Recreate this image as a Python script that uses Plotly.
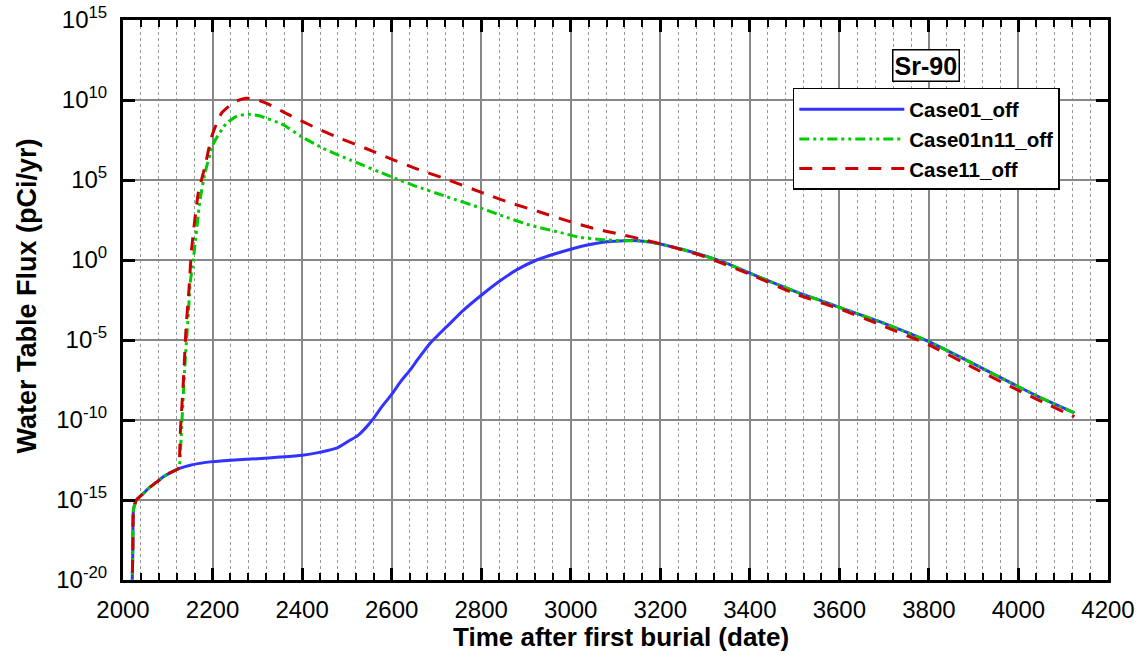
import plotly.graph_objects as go

# ---- data ----
case01_year = [2020, 2022, 2023.5, 2030, 2045, 2060, 2075, 2090, 2105, 2123,
               2150, 2200, 2250, 2300, 2350, 2400, 2430, 2460, 2480, 2505,
               2525, 2545, 2560, 2580, 2600, 2620, 2641, 2660, 2686, 2705, 2723,
               2760, 2801, 2840, 2879, 2924, 2960, 3000, 3040, 3080, 3120,
               3150, 3180, 3200, 3250, 3300, 3350, 3400, 3450, 3512, 3560,
               3600, 3700, 3800, 3900, 4000, 4060, 4125]
case01_flux = [1e-21, 1e-18, 2.5e-16, 1e-15, 2.5e-15, 6.3e-15, 1.3e-14, 2.8e-14, 5.0e-14, 8.7e-14,
               1.5e-13, 2.5e-13, 3.2e-13, 3.8e-13, 4.8e-13, 6.3e-13, 8.5e-13, 1.3e-12, 1.9e-12, 5.0e-12,
               1.1e-11, 4.0e-11, 1.3e-10, 7.9e-10, 4.0e-9, 2.5e-8, 1.3e-7, 7.1e-7, 6.3e-6, 2.2e-5, 6.8e-5,
               7.1e-4, 6.5e-3, 4.5e-2, 0.24, 1.0, 2.2, 4.7, 8.9, 13.8, 16.2,
               15.8, 12.6, 10.0, 4.5, 1.8, 0.6, 0.15, 0.04, 8.3e-3, 2.8e-3,
               1.1e-3, 1.1e-4, 7.9e-6, 3.2e-7, 1.2e-8, 1.8e-9, 2.8e-10]

case01n11_year = [2020, 2022, 2023.5, 2030, 2045, 2060, 2075, 2090, 2105, 2123,
                  2126, 2131, 2135, 2138, 2142, 2146, 2150, 2157, 2172, 2183,
                  2202, 2231, 2255, 2280, 2306, 2358, 2399, 2447, 2507, 2599,
                  2650, 2723, 2801, 2842, 2909, 2969, 3021, 3080, 3120, 3150,
                  3180, 3200, 3250, 3300, 3350, 3400, 3450, 3512, 3560, 3600,
                  3700, 3800, 3900, 4000, 4060, 4125]
case01n11_flux = [1e-21, 1e-18, 2.5e-16, 1e-15, 2.5e-15, 6.3e-15, 1.3e-14, 2.8e-14, 5.0e-14, 8.7e-14,
                  1.3e-13, 4.0e-11, 4.7e-9, 2.1e-7, 1e-5, 4.7e-4, 3.5e-2, 1.0, 5.6e3, 2.6e5,
                  1.9e7, 3.5e8, 1.0e9, 1.3e9, 1.0e9, 2.8e8, 5.1e7, 9.5e6, 1.8e6, 1.6e5,
                  4.5e4, 9.1e3, 1.7e3, 6.5e2, 1.5e2, 59, 26, 17.8, 16.2, 15.8,
                  12.6, 10.0, 4.5, 1.8, 0.6, 0.15, 0.04, 8.3e-3, 2.8e-3, 1.1e-3,
                  1.1e-4, 7.9e-6, 3.2e-7, 1.2e-8, 1.8e-9, 2.8e-10]

case11_year = [2020, 2022, 2023.5, 2030, 2045, 2060, 2075, 2090, 2105, 2123,
               2126, 2128, 2135, 2141, 2147, 2153, 2168, 2183, 2198, 2220,
               2250, 2276, 2300, 2321, 2373, 2433, 2485, 2540, 2597, 2656,
               2716, 2800, 2868, 2931, 2991, 3050, 3106, 3166, 3229, 3300,
               3400, 3500, 3600, 3700, 3800, 3900, 4000, 4060, 4125]
case11_flux = [1e-21, 1e-18, 2.5e-16, 1e-15, 2.5e-15, 6.3e-15, 1.3e-14, 2.8e-14, 5.0e-14, 8.7e-14,
               3.2e-13, 1.6e-11, 3.2e-8, 6.8e-5, 1e-2, 4.0, 1.5e4, 6.8e5, 5.1e7, 1.5e9,
               7.9e9, 1.3e10, 1.0e10, 6.2e9, 1.1e9, 1.7e8, 4.0e7, 1.0e7, 2.2e6, 5.0e5,
               1.3e5, 1.7e4, 3.5e3, 1.0e3, 2.9e2, 95, 43, 17.8, 6.3, 1.6,
               0.13, 7.9e-3, 8.9e-4, 7.1e-5, 5.0e-6, 1.8e-7, 7.1e-9, 1.1e-9, 1.6e-10]

y_tick_vals = [1e-20, 1e-15, 1e-10, 1e-5, 1e0, 1e5, 1e10, 1e15]
y_tick_text = ["10<sup>-20</sup>", "10<sup>-15</sup>", "10<sup>-10</sup>", "10<sup>-5</sup>",
               "10<sup>0</sup>", "10<sup>5</sup>", "10<sup>10</sup>", "10<sup>15</sup>"]

FONT = "Liberation Sans, Arial, sans-serif"

fig = go.Figure()
fig.add_trace(go.Scatter(x=case01_year, y=case01_flux, mode="lines", name="<b>Case01_off</b>",
                         line=dict(color="#3333ff", width=3, shape="spline", smoothing=0.6)))
fig.add_trace(go.Scatter(x=case01n11_year, y=case01n11_flux, mode="lines", name="<b>Case01n11_off</b>",
                         line=dict(color="#00cc00", width=3, dash="10px,4px,3px,4px,3px,4px",
                                   shape="spline", smoothing=0.5)))
fig.add_trace(go.Scatter(x=case11_year, y=case11_flux, mode="lines", name="<b>Case11_off</b>",
                         line=dict(color="#cc0000", width=3, dash="13px,10px",
                                   shape="spline", smoothing=0.5)))

fig.update_layout(
    width=1141, height=655,
    margin=dict(l=123, r=33, t=20, b=75, autoexpand=False),
    paper_bgcolor="white", plot_bgcolor="white",
    font=dict(family=FONT, color="black"),
    showlegend=True,
    legend=dict(x=0.680, y=0.8786, xanchor="left", yanchor="top",
                bgcolor="white", bordercolor="black", borderwidth=1.5,
                font=dict(size=20.5, family=FONT, color="black"),
                itemwidth=105, tracegroupgap=0),
    annotations=[
        dict(text="<b>Sr-90</b>", x=0.815, y=0.9196, xref="paper", yref="paper",
             xanchor="center", yanchor="middle",
             showarrow=False, font=dict(size=25, family=FONT, color="black"),
             bordercolor="black", borderwidth=1.5, borderpad=1, bgcolor="white"),
        dict(text="<b>Time after first burial (date)</b>", x=0.5055, y=-0.102,
             xref="paper", yref="paper", showarrow=False,
             xanchor="center", yanchor="middle",
             font=dict(size=26, family=FONT, color="black")),
        dict(text="<b>Water Table Flux (pCi/yr)</b>", x=-0.0975, y=0.508,
             xref="paper", yref="paper", showarrow=False, textangle=-90,
             xanchor="center", yanchor="middle",
             font=dict(size=27, family=FONT, color="black")),
    ],
)

fig.update_xaxes(
    range=[2000, 4200], tick0=2000, dtick=200, automargin=False,
    showline=True, linecolor="black", linewidth=3, mirror="ticks",
    ticks="inside", ticklen=12, tickwidth=3, tickcolor="black",
    showgrid=True, gridcolor="#888888", gridwidth=1.5,
    zeroline=False,
    tickfont=dict(size=24, family=FONT, color="black"),
    ticklabelstandoff=6,
    minor=dict(dtick=40, tick0=2000, ticks="inside", ticklen=7, tickwidth=1.5,
               tickcolor="black", showgrid=True, gridcolor="#999999",
               gridwidth=1, griddash="dot"),
)
fig.update_yaxes(
    type="log", range=[-20, 15], automargin=False,
    tickmode="array", tickvals=y_tick_vals, ticktext=y_tick_text,
    showline=True, linecolor="black", linewidth=3, mirror="ticks",
    ticks="inside", ticklen=12, tickwidth=3, tickcolor="black",
    showgrid=True, gridcolor="#888888", gridwidth=1.5,
    zeroline=False,
    tickfont=dict(size=24, family=FONT, color="black"),
    ticklabelstandoff=8,
)

fig.write_html("out.html")
